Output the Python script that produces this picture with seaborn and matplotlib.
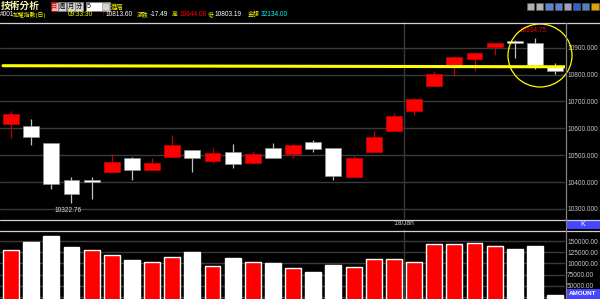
import matplotlib
matplotlib.use("Agg")
import matplotlib.pyplot as plt
import seaborn as sns
import numpy as np
import pandas as pd
from matplotlib.patches import Ellipse, Rectangle
from matplotlib.ticker import FuncFormatter

# ---------------- data ----------------
opens = [10617, 10610, 10544, 10407, 10408, 10439, 10490, 10446, 10495, 10518,
         10480, 10511, 10470, 10527, 10503, 10548, 10526, 10420, 10513, 10591,
         10665, 10759, 10833, 10857, 10901, 10925, 10916, 10829]
closes = [10652, 10568, 10394, 10357, 10400, 10475, 10444, 10472, 10538, 10491,
          10508, 10468, 10505, 10490, 10539, 10523, 10424, 10489, 10568, 10645,
          10710, 10802, 10865, 10881, 10916, 10916, 10836, 10813.60]
highs = [10664, 10635, 10544, 10419, 10419, 10503, 10493, 10489, 10575, 10520,
         10526, 10543, 10515, 10545, 10540, 10557, 10527, 10497, 10591, 10657,
         10712, 10814, 10868, 10883, 10917, 10927, 10934.75, 10844.08]
lows = [10565, 10538, 10374, 10322.76, 10337, 10439, 10409, 10446, 10495, 10436,
        10472, 10451, 10468, 10488, 10489, 10513, 10409, 10420, 10513, 10591,
        10651, 10757, 10795, 10814, 10872, 10861, 10820, 10803.19]
volumes = [130000, 148000, 162000, 137000, 131000, 118000, 108000, 103000, 114000, 126000,
           94000, 112000, 103000, 100000, 91000, 80000, 96000, 92000, 109000, 109000,
           104000, 143000, 144000, 146000, 140000, 133000, 140000, 29000]
vol_colors = ["red", "white", "white", "white", "red", "red", "white", "red", "red", "white",
              "red", "white", "red", "white", "red", "white", "white", "red", "red", "red",
              "red", "red", "red", "red", "red", "white", "white", "white"]
price_ticks = [10300, 10400, 10500, 10600, 10700, 10800, 10900]
vol_ticks = [25000, 50000, 75000, 100000, 125000, 150000]
month_break = 19.5
month_label = "'18/Jan"
trend_line = [10833, 10829]
header_top = "技術分析"
# (text, colour, is_cjk)
header_items = [("#001", "#ffffff", False), ("加權指數(日)", "#ffff00", True),
                ("09:33:30", "#ffff00", False), ("↑", "#ff0000", False),
                ("10813.60", "#ffffff", False), ("漲跌", "#ffff00", True),
                ("-17.49", "#ffffff", False), ("高", "#ffff00", True),
                ("10844.08", "#ff0000", False), ("低", "#ffff00", True),
                ("10803.19", "#ffffff", False), ("金額", "#ffff00", True),
                ("32134.00", "#00ffff", False)]

# ---------------- style ----------------
sns.set_style("dark")
plt.rcParams["font.family"] = ["Liberation Sans", "Noto Sans CJK TC", "DejaVu Sans"]

W, H = 600, 299
fig = plt.figure(figsize=(6, 2.99), dpi=100, facecolor="black")

RED = "#ff0000"
WHITE = "#ffffff"
GRID = "#3a3a3a"
LBL = "#c8c8c8"

n = len(opens)
xs = np.arange(n)
xlim = (-0.546, 27.49)

# ---------------- price panel ----------------
ax = fig.add_axes([0, 1 - 219 / H, 565 / W, (219 - 22) / H])
ax.set_facecolor("black")
for s in ax.spines.values():
    s.set_visible(False)
ax.set_xlim(*xlim)
ax.set_ylim(10262.8, 10995.6)
for t in price_ticks:
    ax.axhline(t, color=GRID, lw=1.0, zorder=0)
ax.axvline(month_break, color=GRID, lw=1.0, zorder=0)

up = [c >= o for o, c in zip(opens, closes)]
wick_cols = ["#c00000" if u else "#c0c0c0" for u in up]
ax.vlines(xs, lows, highs, colors=wick_cols, lw=0.9, zorder=2)
bottoms = [min(o, c) for o, c in zip(opens, closes)]
heights = [max(abs(c - o), 6) for o, c in zip(opens, closes)]
body_cols = [RED if u else WHITE for u in up]
edge_cols = ["#d00000" if u else "#909090" for u in up]
ax.bar(xs, heights, bottom=bottoms, width=0.79, color=body_cols,
       edgecolor=edge_cols, linewidth=0.5, zorder=3)

ax.plot([xlim[0] + 0.15, xlim[1]], trend_line, color="#ffff00", lw=2.2, zorder=4)

imin = int(np.argmin(lows))
imax = int(np.argmax(highs))
ax.annotate(f"{lows[imin]:.2f}", xy=(imin, lows[imin]), xytext=(-3, -4),
            textcoords="offset pixels", ha="center", va="top", fontsize=4.7, color="#e0e0e0")
ax.annotate(f"{highs[imax]:.2f}", xy=(imax, highs[imax]), xytext=(-2, 4),
            textcoords="offset pixels", ha="center", va="bottom", fontsize=4.7, color=RED)

ax.set_xticks([])
ax.yaxis.tick_right()
ax.set_yticks(price_ticks)
ax.yaxis.set_major_formatter(FuncFormatter(lambda v, p: f"{v:.3f}"))
ax.tick_params(axis="y", length=0, pad=1.5, labelsize=4.7, labelcolor=LBL)
ax.grid(False)

# ---------------- volume panel ----------------
vax = fig.add_axes([0, 0, 565 / W, (299 - 230) / H])
vax.set_facecolor("black")
for s in vax.spines.values():
    s.set_visible(False)
for t in vol_ticks:
    vax.axhline(t, color=GRID, lw=1.0, zorder=0)
vdf = pd.DataFrame({"idx": xs, "vol": volumes, "col": vol_colors})
sns.barplot(data=vdf, x="idx", y="vol", hue="col",
            palette={"red": RED, "white": WHITE}, dodge=False, legend=False,
            width=0.79, saturation=1, ax=vax, zorder=2)
vax.axvline(month_break, color=GRID, lw=1.0, zorder=1)
vax.set_xlim(*xlim)
vax.set_ylim(20200, 175300)
vax.set_xlabel("")
vax.set_ylabel("")
vax.set_xticks([])
vax.yaxis.tick_right()
vax.set_yticks(vol_ticks)
vax.yaxis.set_major_formatter(FuncFormatter(lambda v, p: f"{v:.2f}"))
vax.tick_params(axis="y", length=0, pad=1.5, labelsize=4.7, labelcolor=LBL)
vax.grid(False)

# ---------------- overlay (frame, header, annotations) ----------------
ov = fig.add_axes([0, 0, 1, 1], zorder=10)
ov.set_xlim(0, W)
ov.set_ylim(H, 0)
ov.axis("off")
ov.patch.set_alpha(0)

ov.plot([0, W], [22.5, 22.5], color="#d0d0d0", lw=0.9)
ov.plot([0, W], [219.5, 219.5], color="#d0d0d0", lw=0.9)
ov.plot([0, W], [230.5, 230.5], color="#d0d0d0", lw=0.9)
ov.plot([565.5, 565.5], [22.5, 299], color="#808080", lw=0.9)

ov.add_patch(Ellipse((540, 55.5), 64, 63, fill=False, ec="#ffff00", lw=0.9))

xm = 11 + month_break * 20.15
ov.text(xm, 223.5, month_label, ha="center", va="center", fontsize=4.7, color="#d0d0d0")

ov.add_patch(Rectangle((566, 220), 34, 9, fc="#4646ff", ec="none"))
ov.text(583, 224.5, "K", ha="center", va="center", fontsize=5, color="white")
ov.add_patch(Rectangle((566, 289), 34, 10, fc="#4646ff", ec="none"))
ov.text(583, 293.8, "AMOUNT", ha="center", va="center", fontsize=4.6, color="white",
        fontweight="bold")

# header row 1
ov.text(0.5, 6, header_top, ha="left", va="center", fontsize=7, color="#f4f4b0",
        fontweight="bold")
ov.add_patch(Rectangle((51, 2), 6.5, 8.5, fc="#f0b8b8", ec="#c00000", lw=0.6))
ov.text(54.2, 6.3, "日", ha="center", va="center", fontsize=4.5, color="#c00000")
for k, ch in enumerate(["週", "月", "分"]):
    x0 = 58 + k * 8.6
    ov.add_patch(Rectangle((x0, 2), 8, 8.5, fc="#d4d4d4", ec="#808080", lw=0.5))
    ov.text(x0 + 4, 6.3, ch, ha="center", va="center", fontsize=4.5, color="black")
ov.add_patch(Rectangle((85.5, 2), 24, 8.5, fc="white", ec="#808080", lw=0.5))
ov.text(87, 6.3, "5", ha="left", va="center", fontsize=5, color="black")
ov.add_patch(Rectangle((102, 3), 7, 6.5, fc="#d4d4d4", ec="#808080", lw=0.4))
ov.text(111, 6.3, "進階", ha="left", va="center", fontsize=4.5, color="#ffff00")

# header row 2
row2_x = [0, 13, 68, 101, 106, 137, 150, 172, 179.5, 207.5, 214.5, 248, 260.5]
for (txt, col, cjk), x0 in zip(header_items, row2_x):
    ov.text(x0, 14.6, txt, ha="left", va="center", fontsize=4.2 if cjk else 4.7, color=col)

# toolbar icons
icon_cols = ["#b0b0b0", "#b0b0b0", "#6080d0", "#6080d0", "#a0a0c0", "#3060d0", "#5080c0", "#e0a000"]
for k, c in enumerate(icon_cols):
    ov.add_patch(Rectangle((527 + k * 9.2, 3), 7.2, 7.2, fc=c, ec="#606060", lw=0.4))

fig.savefig("out.png", dpi=100, facecolor="black")
